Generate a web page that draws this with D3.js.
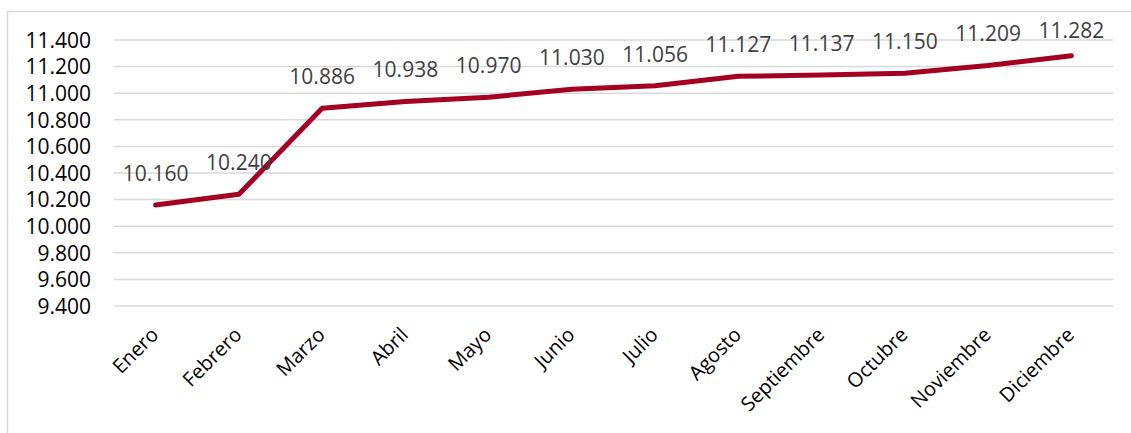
<!DOCTYPE html>
<html>
<head>
<meta charset="utf-8">
<script src="https://cdn.jsdelivr.net/npm/d3@7"></script>
<style>
  html, body { margin: 0; padding: 0; background: #fff; }
  svg { display: block; }
  text { font-family: "Open Sans", "Noto Sans", sans-serif; }
</style>
</head>
<body>
<svg id="chart" width="1131" height="433"></svg>
<script>
// Monthly values
const months = ["Enero", "Febrero", "Marzo", "Abril", "Mayo", "Junio", "Julio",
                "Agosto", "Septiembre", "Octubre", "Noviembre", "Diciembre"];
const values = [10160, 10240, 10886, 10938, 10970, 11030, 11056,
                11127, 11137, 11150, 11209, 11282];
const yTicks = [9400, 9600, 9800, 10000, 10200, 10400, 10600, 10800, 11000, 11200, 11400];

const W = 1131, H = 433;
const plot = { left: 114, right: 1113, top: 40, bottom: 306 };

const svg = d3.select("#chart");

// Spanish-style number format: "." as thousands separator
const fmt = d3.formatLocale({ decimal: ",", thousands: ".", grouping: [3], currency: ["", ""] }).format(",.0f");

// Outer chart frame
svg.append("rect")
  .attr("x", 7.5).attr("y", 11.5)
  .attr("width", W + 10).attr("height", H + 10)
  .attr("fill", "none").attr("stroke", "#d9d9d9").attr("stroke-width", 1.5);

const x = d3.scaleBand().domain(months).range([plot.left, plot.right]);
const y = d3.scaleLinear().domain([9400, 11400]).range([plot.bottom, plot.top]);

// Horizontal gridlines
svg.append("g")
  .selectAll("line")
  .data(yTicks)
  .join("line")
  .attr("x1", plot.left).attr("x2", plot.right)
  .attr("y1", d => y(d)).attr("y2", d => y(d))
  .attr("stroke", "#d9d9d9").attr("stroke-width", 1.5);

// Y axis labels
const yAxis = d3.axisLeft(y).tickValues(yTicks).tickFormat(fmt).tickSize(0).tickPadding(0);
const gy = svg.append("g").attr("transform", `translate(91,0)`).call(yAxis);
gy.select(".domain").remove();
gy.selectAll("text")
  .attr("fill", "#000")
  .style("font-size", "21px")
  .attr("dy", "0.35em");

// X axis labels, rotated
const xAxis = d3.axisBottom(x).tickSize(0).tickPadding(0);
const gx = svg.append("g").call(xAxis);
gx.select(".domain").remove();
gx.selectAll(".tick text")
  .attr("fill", "#000")
  .style("font-size", "20px")
  .attr("text-anchor", "end")
  .attr("y", 0).attr("dy", "0.71em")
  .attr("transform", "translate(-6,326) rotate(-45)");

// Line
const line = d3.line()
  .x((d, i) => x(months[i]) + x.bandwidth() / 2)
  .y(d => y(d));

svg.append("path")
  .datum(values)
  .attr("d", line)
  .attr("fill", "none")
  .attr("stroke", "#a50021")
  .attr("stroke-width", 5)
  .attr("stroke-linecap", "round")
  .attr("stroke-linejoin", "round");

// Value labels above points (kept inside the chart area)
svg.append("g")
  .selectAll("text")
  .data(values)
  .join("text")
  .attr("x", (d, i) => x(months[i]) + x.bandwidth() / 2)
  .attr("y", d => Math.max(y(d) - 24, 38))
  .attr("text-anchor", "middle")
  .attr("fill", "#404040")
  .style("font-size", "21px")
  .text(d => fmt(d));
</script>
</body>
</html>
